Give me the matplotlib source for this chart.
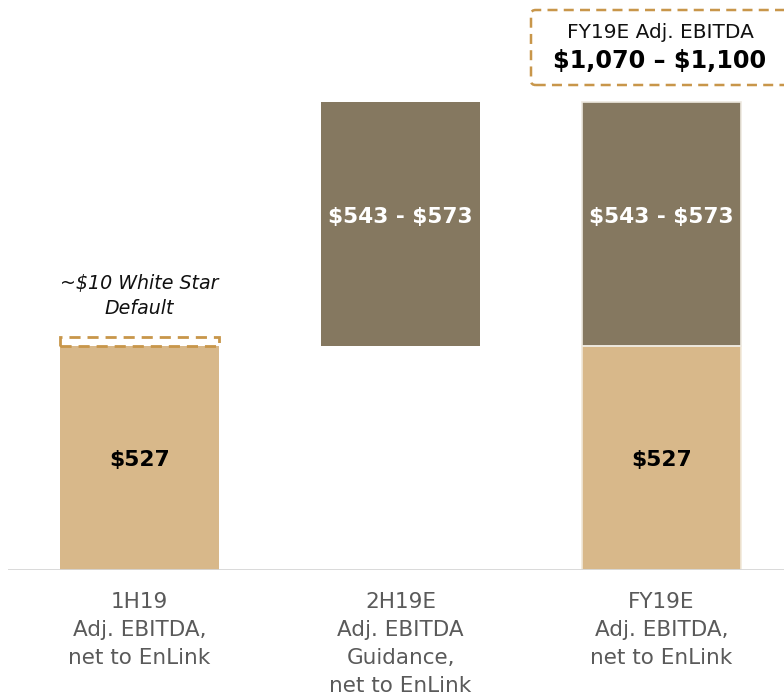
import matplotlib.pyplot as plt
from matplotlib.patches import Rectangle, FancyBboxPatch

plt.rcParams['text.parse_math'] = False

# Data (US$ millions)
categories = ['1H19\nAdj. EBITDA,\nnet to EnLink',
              '2H19E\nAdj. EBITDA\nGuidance,\nnet to EnLink',
              'FY19E\nAdj. EBITDA,\nnet to EnLink']
base_values = [527, 0, 527]
base_labels = ['$527', '', '$527']
guidance_bottom = [0, 527, 527]
guidance_low = [0, 543, 543]
guidance_high = [0, 573, 573]
guidance_labels = ['', '$543 - $573', '$543 - $573']
white_star = 10
fy_low, fy_high = 1070, 1100

tan = '#D8B88A'
dark = '#857860'
gold = '#C8964A'

fig = plt.figure(figsize=(7.84, 6.98), dpi=100)
ax = fig.add_axes([8 / 784, 128 / 698, 776 / 784, 570 / 698])
ax.set_xlim(-0.504, 2.469)
ax.set_ylim(0, 1341)
ax.axis('off')

x = list(range(len(categories)))
w = 0.609

ax.bar(x, base_values, width=w, color=tan, edgecolor='none')
ax.bar(x, guidance_high, width=w, bottom=guidance_bottom, color=dark, edgecolor='none')
# thin light outlines on the stacked bar
ax.bar([2], [base_values[2]], width=w, color='none', edgecolor='#F1E9DA', linewidth=1.2)
ax.bar([2], [guidance_high[2]], width=w, bottom=[guidance_bottom[2]], color='none',
       edgecolor='#EEE9E0', linewidth=1.2)

# baseline
ax.axhline(0, color='#D6D6D6', linewidth=2, xmin=0, xmax=1)

for i in x:
    if base_values[i]:
        ax.text(i, base_values[i] / 2 - 5, base_labels[i], ha='center', va='center',
                fontsize=15.7, fontweight='bold', color='black')
    if guidance_high[i]:
        ax.text(i, guidance_bottom[i] + guidance_high[i] * 0.53, guidance_labels[i],
                ha='center', va='center', fontsize=15.6, fontweight='bold', color='white')

# White Star default dashed box
box_h = 20
ax.add_patch(Rectangle((0 - w / 2, base_values[0]), w, box_h, fill=False,
                       edgecolor=gold, linestyle=(0, (4, 2.5)), linewidth=2))
ax.text(0, base_values[0] + 117, f'~${white_star} White Star\nDefault', ha='center', va='center',
        fontsize=13.7, style='italic', color='#111111', linespacing=1.4)

# FY19E total callout
fig.patches.append(FancyBboxPatch((531 / 784, 613 / 698), 260 / 784, 75 / 698,
                                  boxstyle='round,pad=0,rounding_size=0.006',
                                  transform=fig.transFigure, fill=False,
                                  edgecolor=gold, linestyle=(0, (4, 2.5)), linewidth=1.8))
fig.text(660 / 784, 1 - 33 / 698, 'FY19E Adj. EBITDA', ha='center', va='center',
         fontsize=14.5, color='#111111')
fig.text(660 / 784, 1 - 61 / 698, f'${fy_low:,} – ${fy_high:,}', ha='center', va='center',
         fontsize=17.2, fontweight='bold', color='black')

# category labels
for i, lab in zip(x, categories):
    ax.text(i, -52, lab, ha='center', va='top', fontsize=15.5, color='#5a5a5a',
            linespacing=1.5)

fig.savefig('out.png', dpi=100)
